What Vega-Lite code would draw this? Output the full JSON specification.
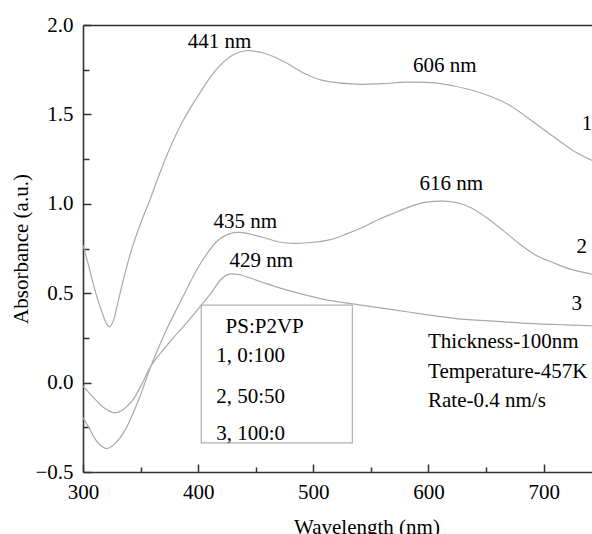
{
  "$schema": "https://vega.github.io/schema/vega-lite/v6.json",
  "width": 509,
  "height": 447,
  "autosize": {"type": "none"},
  "padding": {"left": 83, "top": 25, "right": 0, "bottom": 62},
  "background": "white",
  "config": {"view": {"stroke": null}, "text": {"font": "Liberation Serif", "fontSize": 21, "color": "black"}},
  "datasets": {
    "curves": [
      {"s": "1", "w": 300, "a": 0.77}, {"s": "1", "w": 304, "a": 0.675}, {"s": "1", "w": 308, "a": 0.575}, {"s": "1", "w": 313, "a": 0.46}, {"s": "1", "w": 317, "a": 0.385}, {"s": "1", "w": 320, "a": 0.335}, {"s": "1", "w": 323, "a": 0.312}, {"s": "1", "w": 326, "a": 0.34}, {"s": "1", "w": 330, "a": 0.44}, {"s": "1", "w": 335, "a": 0.575}, {"s": "1", "w": 342, "a": 0.74}, {"s": "1", "w": 350, "a": 0.89}, {"s": "1", "w": 358, "a": 1.02}, {"s": "1", "w": 366, "a": 1.16}, {"s": "1", "w": 374, "a": 1.29}, {"s": "1", "w": 386, "a": 1.455}, {"s": "1", "w": 400, "a": 1.605}, {"s": "1", "w": 415, "a": 1.745}, {"s": "1", "w": 430, "a": 1.832}, {"s": "1", "w": 441, "a": 1.856}, {"s": "1", "w": 456, "a": 1.845}, {"s": "1", "w": 470, "a": 1.81}, {"s": "1", "w": 480, "a": 1.775}, {"s": "1", "w": 492, "a": 1.73}, {"s": "1", "w": 508, "a": 1.69}, {"s": "1", "w": 537, "a": 1.669}, {"s": "1", "w": 560, "a": 1.672}, {"s": "1", "w": 581, "a": 1.68}, {"s": "1", "w": 609, "a": 1.674}, {"s": "1", "w": 638, "a": 1.635}, {"s": "1", "w": 668, "a": 1.56}, {"s": "1", "w": 697, "a": 1.43}, {"s": "1", "w": 725, "a": 1.30}, {"s": "1", "w": 742, "a": 1.243},
      {"s": "2", "w": 300, "a": -0.197}, {"s": "2", "w": 305, "a": -0.25}, {"s": "2", "w": 310, "a": -0.31}, {"s": "2", "w": 315, "a": -0.35}, {"s": "2", "w": 321, "a": -0.368}, {"s": "2", "w": 328, "a": -0.34}, {"s": "2", "w": 337, "a": -0.26}, {"s": "2", "w": 349, "a": -0.085}, {"s": "2", "w": 359, "a": 0.093}, {"s": "2", "w": 372, "a": 0.289}, {"s": "2", "w": 386.5, "a": 0.476}, {"s": "2", "w": 401, "a": 0.655}, {"s": "2", "w": 417, "a": 0.795}, {"s": "2", "w": 427, "a": 0.832}, {"s": "2", "w": 436, "a": 0.84}, {"s": "2", "w": 456, "a": 0.813}, {"s": "2", "w": 471, "a": 0.785}, {"s": "2", "w": 485, "a": 0.779}, {"s": "2", "w": 500, "a": 0.785}, {"s": "2", "w": 514, "a": 0.798}, {"s": "2", "w": 529, "a": 0.832}, {"s": "2", "w": 543, "a": 0.869}, {"s": "2", "w": 558, "a": 0.916}, {"s": "2", "w": 572, "a": 0.953}, {"s": "2", "w": 586.5, "a": 0.99}, {"s": "2", "w": 598, "a": 1.009}, {"s": "2", "w": 613, "a": 1.015}, {"s": "2", "w": 625, "a": 1.005}, {"s": "2", "w": 636, "a": 0.981}, {"s": "2", "w": 650, "a": 0.925}, {"s": "2", "w": 665, "a": 0.85}, {"s": "2", "w": 679, "a": 0.776}, {"s": "2", "w": 694, "a": 0.71}, {"s": "2", "w": 708, "a": 0.672}, {"s": "2", "w": 723, "a": 0.635}, {"s": "2", "w": 742, "a": 0.607},
      {"s": "3", "w": 300, "a": -0.02}, {"s": "3", "w": 310, "a": -0.09}, {"s": "3", "w": 318, "a": -0.14}, {"s": "3", "w": 327, "a": -0.169}, {"s": "3", "w": 335, "a": -0.15}, {"s": "3", "w": 343, "a": -0.1}, {"s": "3", "w": 351, "a": -0.01}, {"s": "3", "w": 359, "a": 0.093}, {"s": "3", "w": 375, "a": 0.225}, {"s": "3", "w": 392, "a": 0.35}, {"s": "3", "w": 410, "a": 0.49}, {"s": "3", "w": 420, "a": 0.578}, {"s": "3", "w": 427, "a": 0.607}, {"s": "3", "w": 436, "a": 0.603}, {"s": "3", "w": 456, "a": 0.56}, {"s": "3", "w": 479, "a": 0.514}, {"s": "3", "w": 508, "a": 0.467}, {"s": "3", "w": 531, "a": 0.443}, {"s": "3", "w": 566, "a": 0.411}, {"s": "3", "w": 595, "a": 0.383}, {"s": "3", "w": 624, "a": 0.358}, {"s": "3", "w": 653, "a": 0.345}, {"s": "3", "w": 682, "a": 0.333}, {"s": "3", "w": 711, "a": 0.325}, {"s": "3", "w": 742, "a": 0.318}
    ],
    "box": [{"w1": 402.7, "w2": 533.9, "a1": 0.433, "a2": -0.337}],
    "peaks": [
      {"t": "441 nm", "w": 418.6, "a": 1.870},
      {"t": "606 nm", "w": 614.1, "a": 1.739},
      {"t": "616 nm", "w": 619.9, "a": 1.077},
      {"t": "435 nm", "w": 441.0, "a": 0.862},
      {"t": "429 nm", "w": 454.8, "a": 0.647}
    ],
    "notes": [
      {"t": "1", "w": 733.1, "a": 1.412},
      {"t": "2", "w": 728.5, "a": 0.726},
      {"t": "3", "w": 724.2, "a": 0.405},
      {"t": "PS:P2VP", "w": 423.8, "a": 0.275},
      {"t": "1, 0:100", "w": 415.7, "a": 0.114},
      {"t": "2, 50:50", "w": 415.7, "a": -0.115},
      {"t": "3, 100:0", "w": 415.7, "a": -0.322},
      {"t": "Thickness-100nm", "w": 599.6, "a": 0.192},
      {"t": "Temperature-457K", "w": 599.6, "a": 0.025},
      {"t": "Rate-0.4 nm/s", "w": 599.6, "a": -0.138}
    ]
  },
  "resolve": {"axis": {"x": "independent", "y": "independent"}},
  "layer": [
    {
      "data": {"name": "curves"},
      "mark": {"type": "line", "interpolate": "catmull-rom", "color": "#a9a9a9", "strokeWidth": 1.2, "clip": true},
      "encoding": {
        "x": {
          "field": "w", "type": "quantitative",
          "scale": {"domain": [300, 742], "nice": false, "zero": false},
          "axis": {
            "orient": "bottom",
            "title": "Wavelength (nm)",
            "values": [300, 400, 500, 600, 700],
            "grid": false, "tickSize": -8, "labelPadding": 34, "labelBaseline": "alphabetic",
            "labelFont": "Liberation Serif", "labelFontSize": 21, "labelColor": "black",
            "labelFlush": false, "labelOverlap": false,
            "domainColor": "#333333", "domainWidth": 1.6, "tickColor": "#333333", "tickWidth": 1.5,
            "titleFont": "Liberation Serif", "titleFontSize": 21, "titleFontWeight": "normal", "titleColor": "black",
            "titleX": 283.5, "titleY": 61, "titleBaseline": "alphabetic", "titleAlign": "center"
          }
        },
        "y": {
          "field": "a", "type": "quantitative",
          "scale": {"domain": [-0.5, 2.0], "nice": false, "zero": false},
          "axis": {
            "orient": "left",
            "title": "Absorbance (a.u.)",
            "values": [-0.5, 0, 0.5, 1, 1.5, 2],
            "format": ".1f",
            "grid": false, "tickSize": -8, "labelPadding": 18,
            "labelFont": "Liberation Serif", "labelFontSize": 21, "labelColor": "black",
            "labelFlush": false, "labelOverlap": false,
            "domainColor": "#333333", "domainWidth": 1.6, "tickColor": "#333333", "tickWidth": 1.5,
            "titleFont": "Liberation Serif", "titleFontSize": 21, "titleFontWeight": "normal", "titleColor": "black",
            "titleAngle": -90, "titleX": -56, "titleY": 223.5, "titleBaseline": "alphabetic", "titleAlign": "center"
          }
        },
        "detail": {"field": "s", "type": "nominal"}
      }
    },
    {
      "data": {"name": "box"},
      "mark": {"type": "rect", "fill": "white", "stroke": "#b0b0b0", "strokeWidth": 1.2},
      "encoding": {
        "x": {"field": "w1", "type": "quantitative", "axis": {"orient": "top", "title": null, "labels": false, "ticks": false, "grid": false, "domain": true, "domainColor": "#333333", "domainWidth": 1.6}},
        "x2": {"field": "w2"},
        "y": {"field": "a1", "type": "quantitative", "axis": null},
        "y2": {"field": "a2"}
      }
    },
    {
      "data": {"name": "peaks"},
      "mark": {"type": "text", "align": "center", "baseline": "alphabetic"},
      "encoding": {
        "x": {"field": "w", "type": "quantitative", "axis": {"orient": "bottom", "values": [350, 450, 550, 650], "tickSize": -5, "tickColor": "#333333", "tickWidth": 1.5, "labels": false, "domain": false, "grid": false, "title": null}},
        "y": {"field": "a", "type": "quantitative", "axis": null},
        "text": {"field": "t"}
      }
    },
    {
      "data": {"name": "notes"},
      "mark": {"type": "text", "align": "left", "baseline": "alphabetic"},
      "encoding": {
        "x": {"field": "w", "type": "quantitative", "axis": null},
        "y": {"field": "a", "type": "quantitative", "axis": {"orient": "left", "values": [-0.25, 0.25, 0.75, 1.25, 1.75], "tickSize": -6, "tickColor": "#333333", "tickWidth": 1.5, "labels": false, "domain": false, "grid": false, "title": null}},
        "text": {"field": "t"}
      }
    }
  ]
}
